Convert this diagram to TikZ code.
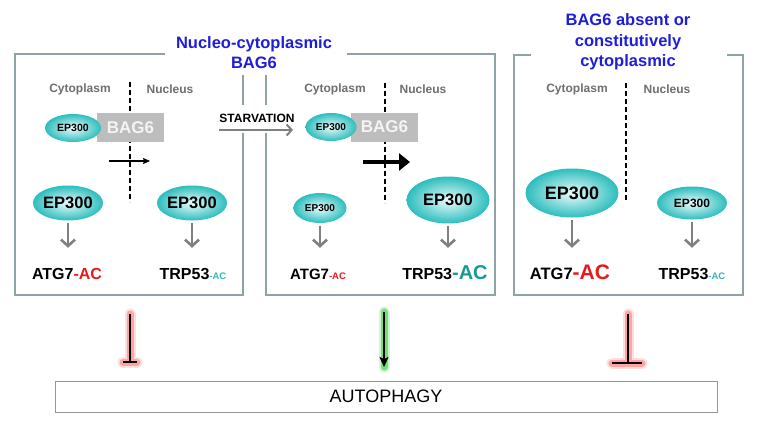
\documentclass[tikz,border=0pt]{standalone}
\usepackage{fontspec}
\setmainfont{Liberation Sans}
\usetikzlibrary{arrows.meta,shapes.geometric}
\definecolor{boxc}{RGB}{143,163,166}
\definecolor{titleblue}{RGB}{30,30,215}
\definecolor{labgrey}{RGB}{110,110,110}
\definecolor{acred}{RGB}{232,25,28}
\definecolor{acteal}{RGB}{24,152,152}
\definecolor{acteallt}{RGB}{60,180,180}
\definecolor{arrg}{RGB}{128,128,128}
\definecolor{bagfill}{RGB}{189,189,189}
\definecolor{bagtext}{RGB}{244,244,244}
\definecolor{epin}{RGB}{236,252,252}
\definecolor{epout}{RGB}{45,189,189}
\definecolor{autob}{RGB}{150,150,150}
\newcommand\fsz[1]{\fontsize{#1}{#1}\selectfont}
\newcommand\fszb[2]{\fontsize{#1}{#2}\selectfont}
\tikzset{
  panelline/.style={draw=boxc, line width=2pt},
  ttl/.style={align=center, text=titleblue, font=\bfseries\fszb{16.5}{20.5}, inner sep=0pt},
  cn/.style={text=labgrey, font=\bfseries\fsz{12}, inner sep=0pt},
  ep/.style={ellipse, inner sep=0pt, shading=radial, inner color=epin, outer color=epout, font=\bfseries},
  bagbox/.style={rectangle, fill=bagfill, minimum width=67pt, minimum height=29pt, inner sep=0pt, text=bagtext, font=\bfseries\fsz{17}},
  garrow/.style={draw=arrg, line width=2.6pt, -{Straight Barb[length=6.5pt,width=14pt]}, shorten <=2.5pt, shorten >=19pt},
  lab/.style={anchor=base, inner sep=0pt, text height=12pt, text depth=0pt, font=\bfseries},
  divline/.style={draw=black, line width=1.1pt, dash pattern=on 5pt off 3pt},
  redglow/.style={draw=red!70, line cap=round},
  greenglow/.style={draw=green!80!black, line cap=round}
}
\begin{document}
\begin{tikzpicture}[x=1pt,y=-1pt]
\fill[white] (0,0) rectangle (757,426);
\useasboundingbox (0,0) rectangle (757,426);

% ---------- panel frames ----------
\draw[panelline] (165,54) -- (15,54) -- (15,295) -- (243,295) -- (243,133);
\draw[panelline] (243,105) -- (243,75);
\draw[panelline] (266,75) -- (266,105);
\draw[panelline] (266,133) -- (266,295) -- (495,295) -- (495,54) -- (347,54);
\draw[panelline] (531,55) -- (514,55) -- (514,295) -- (743,295) -- (743,55) -- (727,55);

% ---------- titles ----------
\node[ttl] (t1) at (254,52.5) {Nucleo-cytoplasmic\\BAG6};
\node[ttl] (t3) at (628,42) {BAG6 absent or\\constitutively\\cytoplasmic};

% ---------- compartment labels ----------
\node[cn] (cy1) at (80,89) {Cytoplasm};
\node[cn] (nu1) at (170,89) {Nucleus};
\node[cn] (cy2) at (335,89) {Cytoplasm};
\node[cn] (nu2) at (423,89) {Nucleus};
\node[cn] (cy3) at (577,89) {Cytoplasm};
\node[cn] (nu3) at (667,89) {Nucleus};

% ---------- dashed borders ----------
\draw[divline] (130,82) -- (130,202);
\draw[divline] (385,83) -- (385,203);
\draw[divline] (626,83) -- (626,202);

% ---------- panel 1 ----------
\node[bagbox] (b1) at (130.5,127.5) {BAG6};
\node[ep, minimum width=56pt, minimum height=28pt, font=\bfseries\fsz{10.5}] (c1) at (73,128) {EP300};
\coordinate (m1s) at (109,161);
\coordinate (m1e) at (150,161);
\draw[line width=1.2pt, -{Stealth[length=7pt,width=6pt,inset=1pt]}] (m1s) -- (m1e);
\node[ep, minimum width=70pt, minimum height=35pt, font=\bfseries\fsz{16.5}] (ea1) at (68,203) {EP300};
\node[ep, minimum width=70pt, minimum height=35pt, font=\bfseries\fsz{16.5}] (eb1) at (192,203) {EP300};
\node[lab] (la1) at (67,279) {\fsz{16}ATG7\textcolor{acred}{-AC}};
\node[lab] (lb1) at (193,279) {\fsz{16}TRP53{\fsz{9.5}\textcolor{acteallt}{-AC}}};
\draw[garrow] (ea1.south) -- (ea1.south |- la1.north);
\draw[garrow] (eb1.south) -- (eb1.south |- lb1.north);

% ---------- starvation ----------
\node[font=\bfseries\fsz{12}, inner sep=0pt] (starv) at (257,118) {STARVATION};
\coordinate (s0) at (219,130);
\coordinate (s1) at (293,130);
\draw[draw=arrg, line width=2pt, -{Straight Barb[length=5pt,width=11pt]}] (s0) -- (s1);

% ---------- panel 2 ----------
\node[bagbox] (b2) at (384.5,127) {BAG6};
\node[ep, minimum width=51pt, minimum height=28pt, font=\bfseries\fsz{10}] (c2) at (331,127) {EP300};
\coordinate (m2s) at (363,162);
\coordinate (m2e) at (410,162);
\draw[line width=4.5pt, -{Triangle[length=11pt,width=17pt]}] (m2s) -- (m2e);
\node[ep, minimum width=53pt, minimum height=30pt, font=\bfseries\fsz{10}] (ea2) at (320,208) {EP300};
\node[ep, minimum width=83pt, minimum height=47pt, font=\bfseries\fsz{16.5}] (eb2) at (448,200) {EP300};
\node[lab] (la2) at (318,279) {\fsz{15}ATG7{\fsz{9.5}\textcolor{acred}{-AC}}};
\node[lab] (lb2) at (445,279) {\fsz{16}TRP53{\fsz{20}\textcolor{acteal}{-AC}}};
\draw[garrow] (ea2.south) -- (ea2.south |- la2.north);
\draw[garrow] (eb2.south) -- (eb2.south |- lb2.north);

% ---------- panel 3 ----------
\node[ep, minimum width=93pt, minimum height=49pt, font=\bfseries\fsz{18}] (ea3) at (572,193) {EP300};
\node[ep, minimum width=70pt, minimum height=33pt, font=\bfseries\fsz{12}] (eb3) at (692,203) {EP300};
\node[lab] (la3) at (570,279) {\fsz{16.5}ATG7{\fsz{21}\textcolor{acred}{-AC}}};
\node[lab] (lb3) at (692,279) {\fsz{16}TRP53{\fsz{9.5}\textcolor{acteallt}{-AC}}};
\draw[garrow] (ea3.south) -- (ea3.south |- la3.north);
\draw[garrow] (eb3.south) -- (eb3.south |- lb3.north);

% ---------- autophagy ----------
\node[draw=autob, line width=1pt, minimum width=662pt, minimum height=31pt, inner sep=0pt, font=\fsz{18}] (auto) at (386,396.5) {AUTOPHAGY};

% inhibitor left
\coordinate (i1s) at (130,314);
\coordinate (i1e) at (130,362);
\coordinate (i1a) at (123,362);
\coordinate (i1b) at (137,362);
\draw[redglow, line width=11pt, opacity=0.18] (i1s) -- (i1e) (i1a) -- (i1b);
\draw[redglow, line width=7pt, opacity=0.4] (i1s) -- (i1e) (i1a) -- (i1b);
\draw[line width=2pt] (i1s) -- (i1e);
\draw[line width=2.6pt] (i1a) -- (i1b);

% activation centre
\coordinate (g1s) at (384,312);
\coordinate (g1e) at (384,367);
\draw[greenglow, line width=11pt, opacity=0.18] (g1s) -- (g1e);
\draw[greenglow, line width=7pt, opacity=0.45] (g1s) -- (g1e);
\draw[line width=1.6pt, -{Stealth[length=10pt,width=9pt,inset=2pt]}] (g1s) -- (g1e);

% inhibitor right
\coordinate (i3s) at (628,314);
\coordinate (i3e) at (628,363);
\coordinate (i3a) at (612,363);
\coordinate (i3b) at (642,363);
\draw[redglow, line width=11pt, opacity=0.18] (i3s) -- (i3e) (i3a) -- (i3b);
\draw[redglow, line width=7pt, opacity=0.4] (i3s) -- (i3e) (i3a) -- (i3b);
\draw[line width=2pt] (i3s) -- (i3e);
\draw[line width=2.6pt] (i3a) -- (i3b);
\end{tikzpicture}
\end{document}
